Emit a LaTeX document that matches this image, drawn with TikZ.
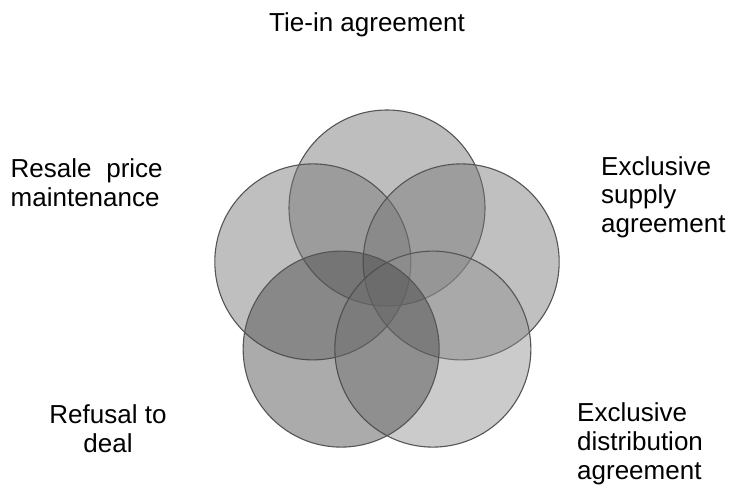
\documentclass[tikz,border=0pt]{standalone}
\usepackage{fontspec}
\setmainfont{Liberation Sans}
\usepackage{tikz}
\usetikzlibrary{calc}
\definecolor{ringTop}{RGB}{114,114,114}
\definecolor{ringLeft}{RGB}{116,116,116}
\definecolor{ringRight}{RGB}{118,118,118}
\definecolor{ringLowLeft}{RGB}{72,72,72}
\definecolor{ringLowRight}{RGB}{142,142,142}
\definecolor{ringEdge}{HTML}{555555}

\begin{document}
\begin{tikzpicture}[x=1pt, y=1pt,
    ring/.style={circle, inner sep=0pt, minimum size=196pt, draw=ringEdge,
        line width=1.1pt, fill=#1, fill opacity=0.46},
    lbl/.style={inner sep=0pt, font=\fontsize{26}{29}\selectfont}]
    \useasboundingbox (0,0) rectangle (733,488);
    \coordinate (mid) at (387,202);

    \node[ring=ringTop] (tie) at ($(mid)+(90:78)$) {};
    \node[ring=ringLeft] (resaleRing) at ($(mid)+(162:78)$) {};
    \node[ring=ringRight] (supplyRing) at ($(mid)+(18:78)$) {};
    \node[ring=ringLowRight] (distribRing) at ($(mid)+(306:78)$) {};
    \node[ring=ringLowLeft] (refusalRing) at ($(mid)+(234:78)$) {};

    \node[lbl, anchor=base] (tiein) at (367,456) {Tie-in agreement};
    \node[lbl, anchor=base west, align=left] (resale) at (10.5,281)
        {\makebox[152pt][s]{Resale price}\\maintenance};
    \node[lbl, anchor=base west, align=left] (supply) at (601,255)
        {Exclusive\\supply\\agreement};
    \node[lbl, anchor=base, align=center] (refusal) at (108,36)
        {Refusal to\\deal};
    \node[lbl, anchor=base west, align=left] (distrib) at (577,9)
        {Exclusive\\distribution\\agreement};
\end{tikzpicture}
\end{document}
